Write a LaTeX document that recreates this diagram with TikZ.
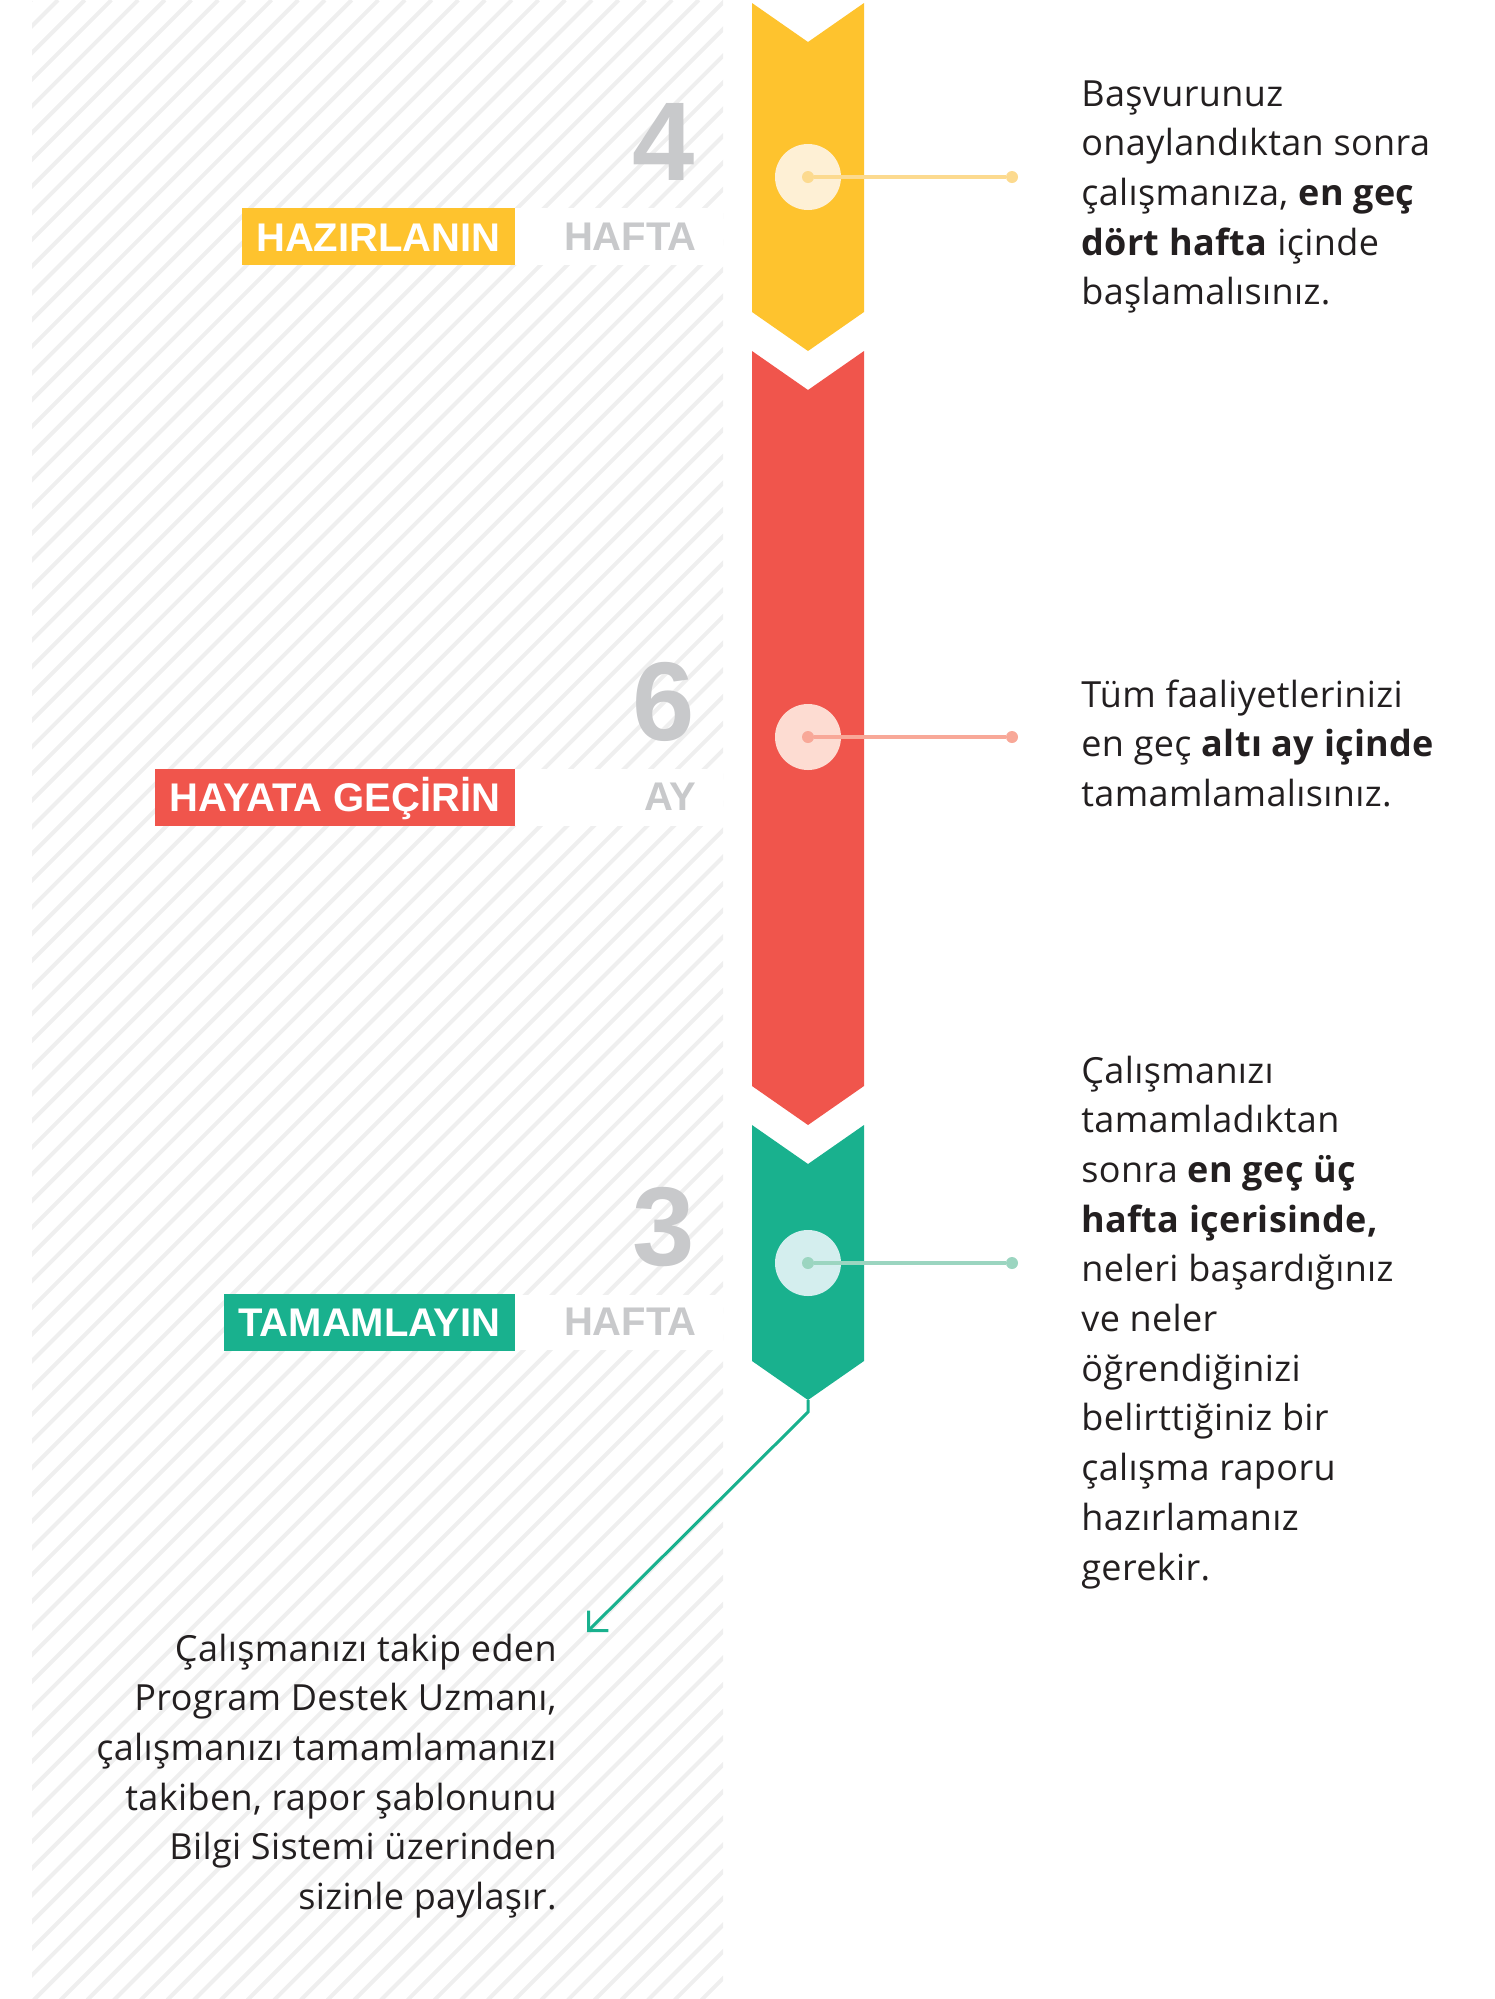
\documentclass[tikz,border=0pt]{standalone}
\usepackage{fontspec}
\setmainfont{Open Sans}[LetterSpace=1.0]
\newfontfamily\labelfont{Liberation Sans}
\usetikzlibrary{arrows.meta}

\definecolor{chevyellow}{HTML}{FEC32E}
\definecolor{chevred}{HTML}{F0554C}
\definecolor{chevgreen}{HTML}{19B18E}
\definecolor{numgray}{HTML}{C8C9CB}
\definecolor{hatchgray}{HTML}{EFEFEF}
\definecolor{ink}{HTML}{231F20}

\newcommand{\chev}[3]{\fill[#1] (752,#2) -- (808,#2+39) -- (864,#2) -- (864,#3) -- (808,#3+39) -- (752,#3) -- cycle;}

\tikzset{
  hatch/.style={draw=hatchgray, line width=2pt},
  tag/.style={anchor=east, inner xsep=7pt, inner ysep=7pt, text height=14.5pt, text depth=0pt,
    text=white, font=\labelfont\bfseries\fontsize{20}{20}\selectfont},
  unit/.style={anchor=east, inner sep=0pt, text depth=0pt, text=numgray,
    font=\labelfont\bfseries\fontsize{20}{20}\selectfont},
  bignum/.style={anchor=east, inner sep=0pt, text depth=0pt, text=numgray,
    font=\labelfont\bfseries\fontsize{56}{56}\selectfont},
  ring/.style={circle, minimum size=33pt, inner sep=0pt},
  pin/.style={circle, minimum size=6pt, inner sep=0pt},
  link/.style={line width=2pt},
  note/.style={anchor=base west, inner sep=0pt, text=ink, font=\fontsize{18}{24.85}\selectfont},
  pointer/.style={draw=chevgreen, line width=1.5pt, -{Straight Barb[length=7pt,width=14pt]}}
}

\begin{document}
\begin{tikzpicture}[x=0.5pt, y=-0.5pt]
\useasboundingbox (0,0) rectangle (1495,1999);

% striped backdrop
\begin{scope}
  \clip (32,0) rectangle (723,1999);
  \foreach \k in {0,...,101}
    \draw[hatch] (31.3+26.7*\k,0) -- ++(-2000,2000);
\end{scope}
\fill[white] (515,208) rectangle (723,265);
\fill[white] (515,768.5) rectangle (723,826);
\fill[white] (515,1294.5) rectangle (723,1350);

% chevrons
\chev{chevyellow}{3}{312}
\chev{chevred}{351}{1086}
\chev{chevgreen}{1125}{1361}

% stage labels
\node[tag, fill=chevyellow] (prep) at (515,236.5) {HAZIRLANIN};
\node[unit] (prepunit) at (697,236.5) {HAFTA};
\node[bignum] (prepnum) at (695,142) {4};

\node[tag, fill=chevred] (run) at (515,797) {HAYATA GEÇİRİN};
\node[unit] (rununit) at (697,797) {AY};
\node[bignum] (runnum) at (695,701) {6};

\node[tag, fill=chevgreen] (done) at (515,1322) {TAMAMLAYIN};
\node[unit] (doneunit) at (697,1322) {HAFTA};
\node[bignum] (donenum) at (695,1226) {3};

% markers and leaders
\node[ring, fill={rgb,255:red,254;green,240;blue,213}] (ring1) at (808,177) {};
\node[pin, fill={rgb,255:red,252;green,218;blue,143}] (pin1) at (ring1.center) {};
\node[pin, fill={rgb,255:red,252;green,218;blue,143}] (end1) at (1012,177) {};
\draw[link, draw={rgb,255:red,252;green,218;blue,143}] (pin1) -- (end1);

\node[ring, fill={rgb,255:red,253;green,220;blue,210}] (ring2) at (808,737) {};
\node[pin, fill={rgb,255:red,248;green,168;blue,152}] (pin2) at (ring2.center) {};
\node[pin, fill={rgb,255:red,248;green,168;blue,152}] (end2) at (1012,737) {};
\draw[link, draw={rgb,255:red,248;green,168;blue,152}] (pin2) -- (end2);

\node[ring, fill={rgb,255:red,212;green,238;blue,238}] (ring3) at (808,1263) {};
\node[pin, fill={rgb,255:red,155;green,213;blue,192}] (pin3) at (ring3.center) {};
\node[pin, fill={rgb,255:red,155;green,213;blue,192}] (end3) at (1012,1263) {};
\draw[link, draw={rgb,255:red,155;green,213;blue,192}] (pin3) -- (end3);

% texts
\node[note] (step1) at (1081,106) {\parbox[t]{210pt}{\raggedright
  Başvurunuz\\
  onaylandıktan sonra\\
  çalışmanıza, \textbf{en geç}\\
  \textbf{dört hafta} içinde\\
  başlamalısınız.}};

\node[note] (step2) at (1081,707) {\parbox[t]{210pt}{\raggedright
  Tüm faaliyetlerinizi\\
  en geç \textbf{altı ay içinde}\\
  tamamlamalısınız.}};

\node[note] (step3) at (1081,1083) {\parbox[t]{210pt}{\raggedright
  Çalışmanızı\\
  tamamladıktan\\
  sonra \textbf{en geç üç}\\
  \textbf{hafta içerisinde,}\\
  neleri başardığınız\\
  ve neler\\
  öğrendiğinizi\\
  belirttiğiniz bir\\
  çalışma raporu\\
  hazırlamanız\\
  gerekir.}};

\node[note, anchor=base east] (handoff) at (557,1661) {\parbox[t]{270pt}{\raggedleft
  Çalışmanızı takip eden\\
  Program Destek Uzmanı,\\
  çalışmanızı tamamlamanızı\\
  takiben, rapor şablonunu\\
  Bilgi Sistemi üzerinden\\
  sizinle paylaşır.}};

% hand-off arrow
\coordinate (gtip) at (808,1400);
\coordinate (bend) at (808,1412);
\coordinate (aim) at (587,1632);
\draw[pointer] (gtip) -- (bend) -- (aim);

\end{tikzpicture}
\end{document}
